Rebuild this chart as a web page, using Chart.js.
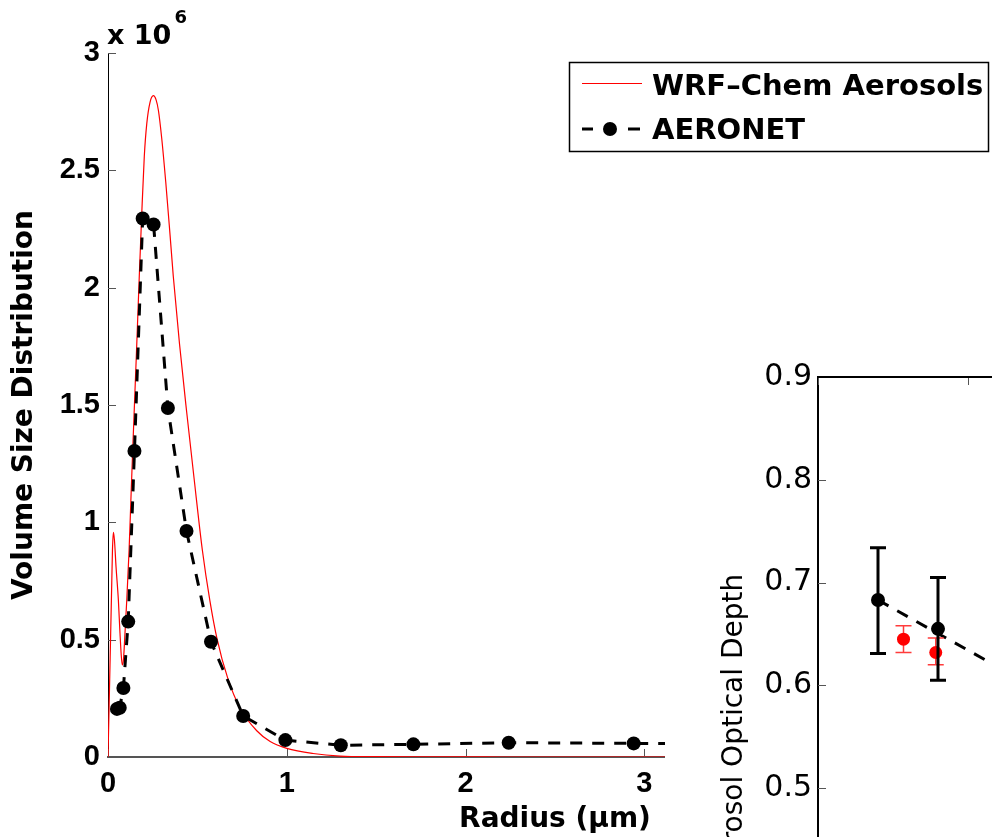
<!DOCTYPE html>
<html>
<head>
<meta charset="utf-8">
<script src="https://cdn.jsdelivr.net/npm/chart.js@4.4.1/dist/chart.umd.min.js"></script>
<style>
  html, body { margin: 0; padding: 0; overflow: hidden; background: #fff; }
  #wrap { position: relative; width: 992px; height: 837px; overflow: hidden; background: #fff; }
  #sizeDist { position: absolute; left: 0; top: 0; }
  #aod { position: absolute; left: 665px; top: 160px; background: #fff; }
</style>
</head>
<body>
<div id="wrap">
  <canvas id="sizeDist" width="1010" height="837"></canvas>
  <canvas id="aod" width="760" height="976"></canvas>
</div>
<script>
// ---- Volume size distribution (dV/dlnr) ----
// WRF-Chem modelled distribution, radius in µm
const modelRadius = [0, 0.007, 0.015, 0.021, 0.025, 0.030, 0.036, 0.045, 0.058, 0.067, 0.074, 0.080,
  0.087, 0.095, 0.105, 0.118, 0.128, 0.138, 0.159, 0.175, 0.188, 0.203, 0.217, 0.235, 0.254, 0.269,
  0.282, 0.300, 0.323, 0.347, 0.365, 0.400, 0.440, 0.481, 0.528, 0.570, 0.608, 0.670, 0.739, 0.832,
  0.907, 1.000, 1.147, 1.298, 1.494, 1.800, 2.200, 2.600, 3.000, 4.000, 5.000];
const modelVolume = [0, 0.243e6, 0.528e6, 0.741e6, 0.882e6, 0.957e6, 0.925e6, 0.810e6, 0.669e6, 0.528e6,
  0.435e6, 0.392e6, 0.420e6, 0.528e6, 0.669e6, 0.882e6, 1.095e6, 1.304e6, 1.720e6, 2.050e6, 2.300e6,
  2.560e6, 2.700e6, 2.790e6, 2.818e6, 2.800e6, 2.755e6, 2.640e6, 2.450e6, 2.225e6, 2.050e6, 1.760e6,
  1.470e6, 1.190e6, 0.880e6, 0.665e6, 0.510e6, 0.335e6, 0.208e6, 0.112e6, 0.066e6, 0.037e6, 0.015e6,
  0.004e6, 0.0013e6, 0.0004e6, 0.0001e6, 0, 0, 0, 0];

// AERONET inversion bins
const aeronetRadius = [0.050, 0.0656, 0.0861, 0.113, 0.148, 0.194, 0.255, 0.335, 0.439, 0.576,
  0.756, 0.992, 1.302, 1.708, 2.241, 2.940, 3.857];
const aeronetVolume = [0.205e6, 0.210e6, 0.294e6, 0.577e6, 1.304e6, 2.295e6, 2.269e6, 1.487e6,
  0.963e6, 0.491e6, 0.175e6, 0.072e6, 0.050e6, 0.054e6, 0.061e6, 0.058e6, 0.057e6];

const radiusTicks = [0, 1, 2, 3, 4, 5];
const volumeTicks = [0, 0.5e6, 1e6, 1.5e6, 2e6, 2.5e6, 3e6];

// ---- Aerosol optical depth by wavelength (nm) ----
const aeronetWl = [340, 380];
const aeronetAod = [0.683, 0.655];
const aeronetAodLow = [0.631, 0.605];
const aeronetAodHigh = [0.734, 0.705];

const modelWl = [357, 378.5];
const modelAod = [0.645, 0.632];
const modelAodLow = [0.632, 0.620];
const modelAodHigh = [0.658, 0.646];

const fitWl = [340, 415];
const fitAod = [0.683, 0.622];

const toPoints = (xs, ys) => xs.map((x, i) => ({ x, y: ys[i] }));

const BOLD_SANS = 'DejaVu Sans';
const TICK_SANS = 'Liberation Sans';

// Short inward-pointing tick marks on the axes
function inwardTicks(len, color, mirror) {
  return {
    id: 'inwardTicks',
    beforeDatasetsDraw(chart) {
      const { ctx, chartArea: a, scales } = chart;
      ctx.save();
      ctx.strokeStyle = color;
      ctx.lineWidth = 1;
      ctx.beginPath();
      scales.x.ticks.forEach((t, i) => {
        const px = Math.round(scales.x.getPixelForTick(i)) + 0.5;
        if (px < a.left - 1 || px > a.right + 1) return;
        ctx.moveTo(px, a.bottom); ctx.lineTo(px, a.bottom - len);
        if (mirror) { ctx.moveTo(px, a.top); ctx.lineTo(px, a.top + len); }
      });
      scales.y.ticks.forEach((t, i) => {
        const py = Math.round(scales.y.getPixelForTick(i)) + 0.5;
        if (py < a.top - 1 || py > a.bottom + 1) return;
        ctx.moveTo(a.left, py); ctx.lineTo(a.left + len, py);
        if (mirror) { ctx.moveTo(a.right, py); ctx.lineTo(a.right - len, py); }
      });
      ctx.stroke();
      ctx.restore();
    }
  };
}

// Exponent label and boxed legend for the size-distribution axes
const sizeDistDecor = {
  id: 'sizeDistDecor',
  afterDraw(chart) {
    const { ctx, chartArea: a } = chart;
    const ds = chart.data.datasets;
    ctx.save();
    // axis multiplier
    ctx.fillStyle = '#000';
    ctx.textBaseline = 'alphabetic';
    ctx.textAlign = 'left';
    ctx.font = `bold 27px "${BOLD_SANS}"`;
    ctx.fillText('x 10', a.left - 1, 44);
    const w = ctx.measureText('x 10').width;
    ctx.font = `bold 18px "${BOLD_SANS}"`;
    ctx.fillText('6', a.left + w + 2, 23);

    // legend box
    const bx = 569, by = 62, bw = 419, bh = 89;
    ctx.fillStyle = '#fff';
    ctx.fillRect(bx, by, bw, bh);
    ctx.strokeStyle = '#000';
    ctx.lineWidth = 1.5;
    ctx.strokeRect(bx + 0.5, by + 0.5, bw, bh);

    // entry 1: model line
    const m = ds[0];
    ctx.strokeStyle = m.borderColor;
    ctx.lineWidth = m.borderWidth;
    ctx.beginPath(); ctx.moveTo(582, 83.5); ctx.lineTo(642, 83.5); ctx.stroke();

    // entry 2: dashed line with marker
    const o = ds[1];
    ctx.strokeStyle = o.borderColor;
    ctx.lineWidth = o.borderWidth;
    ctx.beginPath();
    ctx.moveTo(582, 129); ctx.lineTo(593, 129);
    ctx.moveTo(628, 129); ctx.lineTo(640, 129);
    ctx.stroke();
    ctx.fillStyle = o.pointBackgroundColor;
    ctx.beginPath(); ctx.arc(610, 129, o.pointRadius, 0, Math.PI * 2); ctx.fill();

    ctx.fillStyle = '#000';
    ctx.font = `bold 29px "${BOLD_SANS}"`;
    ctx.fillText(m.label, 652, 95);
    ctx.fillText(o.label, 652, 139);
    ctx.restore();
  }
};

new Chart(document.getElementById('sizeDist'), {
  type: 'line',
  data: {
    datasets: [
      {
        label: 'WRF–Chem Aerosols',
        data: toPoints(modelRadius, modelVolume),
        borderColor: '#ff0000',
        borderWidth: 1.2,
        pointRadius: 0,
        cubicInterpolationMode: 'monotone',
        fill: false,
        order: 2
      },
      {
        label: 'AERONET',
        data: toPoints(aeronetRadius, aeronetVolume),
        borderColor: '#000000',
        borderWidth: 3,
        borderDash: [12, 10],
        pointRadius: 7,
        pointHoverRadius: 7,
        pointBackgroundColor: '#000000',
        pointBorderWidth: 0,
        tension: 0,
        fill: false,
        order: 1
      }
    ]
  },
  options: {
    responsive: false,
    animation: false,
    events: [],
    layout: { padding: { left: 0, top: 53, right: 8, bottom: 0 } },
    plugins: { legend: { display: false }, tooltip: { enabled: false } },
    scales: {
      x: {
        type: 'linear',
        min: radiusTicks[0],
        max: radiusTicks[radiusTicks.length - 1],
        grid: { display: false, drawTicks: false },
        border: { display: true, color: '#555', width: 2 },
        afterBuildTicks: s => { s.ticks = radiusTicks.map(v => ({ value: v })); },
        ticks: {
          padding: 10, color: '#000', maxRotation: 0, autoSkip: false,
          font: { family: TICK_SANS, weight: 'bold', size: 29 }
        },
        title: {
          display: true, text: 'Radius (μm)', color: '#000',
          font: { family: BOLD_SANS, weight: 'bold', size: 28 },
          padding: { top: 0, bottom: 0 }
        },
        afterFit: s => { s.height = 80; s.paddingLeft = 0; s.paddingRight = 0; }
      },
      y: {
        type: 'linear',
        min: volumeTicks[0],
        max: volumeTicks[volumeTicks.length - 1],
        grid: { display: false, drawTicks: false },
        border: { display: true, color: '#000', width: 1 },
        afterBuildTicks: s => { s.ticks = volumeTicks.map(v => ({ value: v })); },
        ticks: {
          padding: 8, color: '#000',
          font: { family: TICK_SANS, weight: 'bold', size: 29 },
          callback: v => String(+(v / 1e6).toFixed(1))
        },
        title: {
          display: true, text: 'Volume Size Distribution', color: '#000',
          font: { family: BOLD_SANS, weight: 'bold', size: 28 },
          padding: { top: 8, bottom: 0 }
        },
        afterFit: s => { s.width = 108; s.paddingTop = 0; s.paddingBottom = 0; }
      }
    }
  },
  plugins: [inwardTicks(8, '#555', false), sizeDistDecor]
});

// ---- AOD panel ----
const errorBars = {
  id: 'errorBars',
  beforeDatasetDraw(chart, args) {
    const ds = chart.data.datasets[args.index];
    if (!ds.errLow) return;
    const { ctx } = chart;
    const xs = chart.scales.x, ys = chart.scales.y;
    ctx.save();
    ctx.strokeStyle = ds.errColor;
    ctx.lineWidth = ds.errWidth;
    ctx.beginPath();
    ds.data.forEach((p, i) => {
      const px = xs.getPixelForValue(p.x);
      const lo = ys.getPixelForValue(ds.errLow[i]);
      const hi = ys.getPixelForValue(ds.errHigh[i]);
      ctx.moveTo(px, lo); ctx.lineTo(px, hi);
      ctx.moveTo(px - ds.errCap, lo); ctx.lineTo(px + ds.errCap, lo);
      ctx.moveTo(px - ds.errCap, hi); ctx.lineTo(px + ds.errCap, hi);
    });
    ctx.stroke();
    ctx.restore();
  }
};

const boxTop = {
  id: 'boxTop',
  afterDraw(chart) {
    const { ctx, chartArea: a } = chart;
    ctx.save();
    ctx.strokeStyle = '#000';
    ctx.lineWidth = 2;
    ctx.beginPath();
    ctx.moveTo(a.left - 1, a.top); ctx.lineTo(a.right, a.top);
    ctx.stroke();
    ctx.restore();
  }
};

new Chart(document.getElementById('aod'), {
  type: 'scatter',
  data: {
    datasets: [
      {
        label: 'AERONET fit',
        data: toPoints(fitWl, fitAod),
        showLine: true,
        borderColor: '#000',
        borderWidth: 3,
        borderDash: [12, 10],
        pointRadius: 0,
        order: 3
      },
      {
        label: 'WRF-Chem',
        data: toPoints(modelWl, modelAod),
        pointRadius: 6.5,
        pointHoverRadius: 6.5,
        pointBackgroundColor: '#ff0000',
        pointBorderWidth: 0,
        errLow: modelAodLow, errHigh: modelAodHigh,
        errColor: '#ff3b3b', errWidth: 1.5, errCap: 8,
        order: 2
      },
      {
        label: 'AERONET',
        data: toPoints(aeronetWl, aeronetAod),
        pointRadius: 7,
        pointHoverRadius: 7,
        pointBackgroundColor: '#000',
        pointBorderWidth: 0,
        errLow: aeronetAodLow, errHigh: aeronetAodHigh,
        errColor: '#000', errWidth: 3, errCap: 8,
        order: 1
      }
    ]
  },
  options: {
    responsive: false,
    animation: false,
    events: [],
    layout: { padding: { left: 0, top: 217, right: 7, bottom: 0 } },
    plugins: { legend: { display: false }, tooltip: { enabled: false } },
    scales: {
      x: {
        type: 'linear', min: 300, max: 700,
        grid: { display: false, drawTicks: false },
        border: { display: true, color: '#000', width: 2 },
        ticks: { stepSize: 100, padding: 8, color: '#000', font: { family: 'DejaVu Sans', size: 30 } },
        afterFit: s => { s.height = 60; s.paddingLeft = 0; s.paddingRight = 0; }
      },
      y: {
        type: 'linear', min: 0.22, max: 0.9,
        grid: { display: false, drawTicks: false },
        border: { display: true, color: '#000', width: 2 },
        ticks: {
          stepSize: 0.1, padding: 6, color: '#000',
          font: { family: 'DejaVu Sans', size: 30 },
          callback: v => v.toFixed(1)
        },
        title: {
          display: true, text: 'Aerosol Optical Depth', color: '#000',
          font: { family: 'DejaVu Sans', size: 28 },
          padding: { top: 53, bottom: 0 }
        },
        afterFit: s => { s.width = 153; s.paddingTop = 0; s.paddingBottom = 0; }
      }
    }
  },
  plugins: [inwardTicks(8, '#555', true), errorBars, boxTop]
});
</script>
</body>
</html>
